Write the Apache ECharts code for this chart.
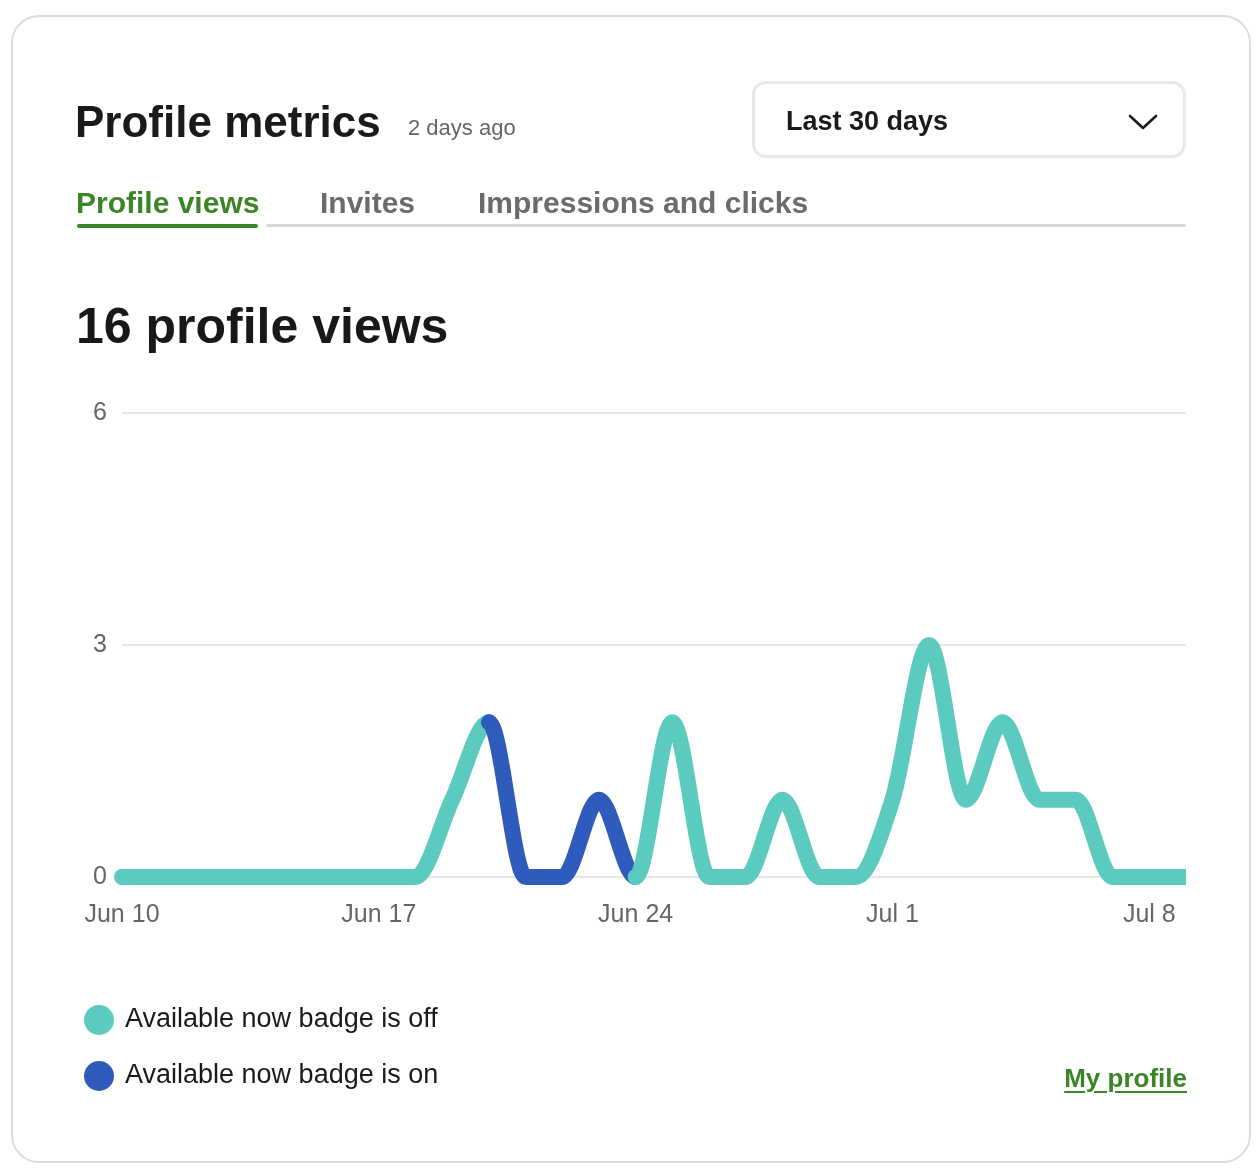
<!DOCTYPE html>
<html>
<head>
<meta charset="utf-8">
<script src="https://cdn.jsdelivr.net/npm/echarts@6/dist/echarts.min.js"></script>
<style>
  html, body { margin: 0; padding: 0; background: #fff; }
  body { width: 1260px; height: 1176px; position: relative; overflow: hidden;
         font-family: "Liberation Sans", Arial, sans-serif; }
  #card { position: absolute; left: 11px; top: 15px; width: 1240px; height: 1148px;
          box-sizing: border-box; border: 2px solid #dcdcdc; border-radius: 28px; }
  #chart { position: absolute; left: 0; top: 0; width: 1260px; height: 1176px; }
  .txt { position: absolute; white-space: nowrap; line-height: 1; }
  #title { left: 75px; top: 100px; font-size: 44px; font-weight: bold; color: #1a1a1a; }
  #ago { left: 408px; top: 117px; font-size: 22px; color: #666; }
  #range { position: absolute; left: 752px; top: 81px; width: 434px; height: 77px;
           box-sizing: border-box; border: 3px solid #e8e8e8; border-radius: 14px; }
  #rangeTxt { left: 786px; top: 108px; font-size: 27px; font-weight: bold; color: #1a1a1a; }
  #chev { position: absolute; left: 1126px; top: 110px; }
  .tab { top: 188px; font-size: 30px; font-weight: bold; color: #6b6b6b; }
  #tab1 { left: 76px; color: #3b8527; }
  #tab2 { left: 320px; }
  #tab3 { left: 478px; }
  #ulGreen { position: absolute; left: 77px; top: 224px; width: 181px; height: 4px; border-radius: 2px; background: #3b8527; }
  #ulGray { position: absolute; left: 266px; top: 224px; width: 920px; height: 3px; border-radius: 2px; background: #d9d9d9; }
  #big { left: 76px; top: 301px; font-size: 50px; font-weight: bold; color: #181818; }
  #link { right: 73px; top: 1065px; font-size: 26px; font-weight: bold; color: #3b8527;
          text-decoration: underline; text-decoration-thickness: 2px; text-underline-offset: 4px; }
</style>
</head>
<body>
<div id="card"></div>
<div id="chart"></div>
<div class="txt" id="title">Profile metrics</div>
<div class="txt" id="ago">2 days ago</div>
<div id="range"></div>
<div class="txt" id="rangeTxt">Last 30 days</div>
<svg id="chev" width="34" height="22"><polyline points="4,6 17,18 30,6" fill="none" stroke="#1a1a1a" stroke-width="2.6" stroke-linecap="round" stroke-linejoin="round"/></svg>
<div class="txt tab" id="tab1">Profile views</div>
<div class="txt tab" id="tab2">Invites</div>
<div class="txt tab" id="tab3">Impressions and clicks</div>
<div id="ulGreen"></div>
<div id="ulGray"></div>
<div class="txt" id="big">16 profile views</div>
<div class="txt" id="link">My profile</div>

<script>
  // one entry per day, Jun 10 .. Jul 9
  const dates = ['Jun 10','Jun 11','Jun 12','Jun 13','Jun 14','Jun 15','Jun 16','Jun 17','Jun 18','Jun 19',
                 'Jun 20','Jun 21','Jun 22','Jun 23','Jun 24','Jun 25','Jun 26','Jun 27','Jun 28','Jun 29',
                 'Jun 30','Jul 1','Jul 2','Jul 3','Jul 4','Jul 5','Jul 6','Jul 7','Jul 8','Jul 9'];
  const views = [0,0,0,0,0,0,0,0,0,1,
                 2,0,0,1,0,2,0,0,1,0,
                 0,1,3,1,2,1,1,0,0,0];
  // 1 = "Available now" badge was on that day
  const badgeOn = [0,0,0,0,0,0,0,0,0,0,
                   0,1,1,1,0,0,0,0,0,0,
                   0,0,0,0,0,0,0,0,0,0];
  const yTicks = [0, 3, 6];
  const seriesNames = ['Available now badge is off', 'Available now badge is on'];
  const colors = ['#5ccbbf', '#2f5bbd'];

  // split the line into runs of equal badge state (a run shares its end points with its neighbours)
  function buildRuns(){
    let runs = [];
    let cur = null;
    for(let i=0;i<dates.length-1;i++){
      let st = (badgeOn[i] || badgeOn[i+1]) ? 1 : 0;
      if(cur && cur.state === st){
        cur.to = i+1;
      } else {
        cur = {state: st, from: i, to: i+1, order: runs.length};
        runs.push(cur);
      }
    }
    return runs;
  }
  const runs = buildRuns();

  // monotone cubic tangents (in pixel space), keeps flat stretches flat
  function tangents(pts){
    let n = pts.length, t = new Array(n).fill(0);
    for(let i=1;i<n-1;i++){
      let h0 = pts[i][0]-pts[i-1][0], h1 = pts[i+1][0]-pts[i][0];
      let s0 = (pts[i][1]-pts[i-1][1])/h0, s1 = (pts[i+1][1]-pts[i][1])/h1;
      let p = (s0*h1 + s1*h0)/(h0+h1);
      t[i] = (Math.sign(s0)+Math.sign(s1)) * Math.min(Math.abs(s0), Math.abs(s1), 0.5*Math.abs(p)) || 0;
    }
    let hA = pts[1][0]-pts[0][0];
    t[0] = (3*(pts[1][1]-pts[0][1])/hA - t[1])/2;
    let hB = pts[n-1][0]-pts[n-2][0];
    t[n-1] = (3*(pts[n-1][1]-pts[n-2][1])/hB - t[n-2])/2;
    return t;
  }

  function makeRender(color){
    return function(params, api){
      let from = api.value(0), to = api.value(1), order = api.value(2);
      let pts = views.map((v,i)=>api.coord([i, v]));
      let t = tangents(pts);
      let d = 'M' + pts[from][0] + ' ' + pts[from][1];
      for(let i=from;i<to;i++){
        let dx = (pts[i+1][0]-pts[i][0])/3;
        d += ' C' + (pts[i][0]+dx) + ' ' + (pts[i][1]+dx*t[i]) + ' '
           + (pts[i+1][0]-dx) + ' ' + (pts[i+1][1]-dx*t[i+1]) + ' '
           + pts[i+1][0] + ' ' + pts[i+1][1];
      }
      return {
        type: 'group',
        children: [{
          type: 'path',
          shape: {pathData: d},
          style: {fill: 'none', stroke: color, lineWidth: 16, lineCap: 'butt', lineJoin: 'round'},
          z2: order*2
        }, {
          type: 'circle',
          shape: {cx: pts[from][0], cy: pts[from][1], r: 8},
          style: {fill: color},
          z2: order*2+1
        }]
      };
    };
  }

  let chart = echarts.init(document.getElementById('chart'));
  let option = {
    animation: false,
    textStyle: {fontFamily: '"Liberation Sans", Arial, sans-serif'},
    grid: {left: 122, right: 74, top: 413, bottom: 299, containLabel: false},
    legend: {
      orient: 'vertical',
      left: 84,
      top: 1005,
      padding: 0,
      itemWidth: 30,
      itemHeight: 30,
      itemGap: 26,
      selectedMode: false,
      data: seriesNames.map((n,i)=>({name: n, icon: 'circle', itemStyle: {color: colors[i]}})),
      textStyle: {fontSize: 27, color: '#1a1a1a', padding: [3,0,0,6]}
    },
    xAxis: {
      type: 'category',
      data: dates,
      boundaryGap: false,
      axisLine: {show: false},
      axisTick: {show: false},
      axisLabel: {interval: 6, fontSize: 25, color: '#666', margin: 26}
    },
    yAxis: {
      type: 'value',
      min: yTicks[0],
      max: yTicks[yTicks.length-1],
      interval: yTicks[1]-yTicks[0],
      axisLine: {show: false},
      axisTick: {show: false},
      axisLabel: {fontSize: 25, color: '#666', margin: 15},
      splitLine: {lineStyle: {color: '#dedede', width: 1.5}}
    },
    series: seriesNames.map((name, s)=>({
      name: name,
      type: 'custom',
      clip: false,
      itemStyle: {color: colors[s]},
      dimensions: ['from', 'to', 'order'],
      encode: {x: 'from', y: 'order'},
      data: runs.filter(r=>r.state === s).map(r=>[r.from, r.to, r.order]),
      renderItem: makeRender(colors[s])
    }))
  };
  chart.setOption(option);
</script>
</body>
</html>
